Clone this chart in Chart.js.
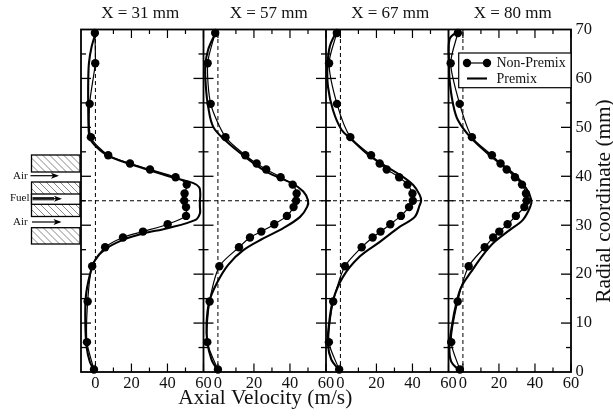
<!DOCTYPE html>
<html>
<head>
<meta charset="utf-8">
<script src="https://cdn.jsdelivr.net/npm/chart.js@4/dist/chart.umd.min.js"></script>
<style>html,body{margin:0;padding:0;background:#fff}canvas{display:block}</style>
</head>
<body>
<canvas id="c" width="613" height="419"></canvas>
<script>
const panelTitles = ["X = 31 mm", "X = 57 mm", "X = 67 mm", "X = 80 mm"];
const xTickValues = [0, 10, 20, 30, 40, 50, 60];
const xTickLabels = [0, 20, 40, 60];
const yTickLabels = [0, 10, 20, 30, 40, 50, 60, 70];

const radialNonPremix = [69.3,63.1,54.8,48,44.3,42.6,41.4,39.8,38.3,36.5,35,33.7,31.9,30.2,28.7,27.5,25.5,21.6,14.4,6.1,0.5];
const velNonPremix31 = [-0.3,-0.1,-3.2,-2.5,7.1,19.2,30.3,44.5,50.7,49.5,49.3,50.3,50.3,40.1,26.4,15.3,5.4,-1.8,-4.3,-4.7,-0.8];
const velNonPremix57 = [-1.5,-5.7,-4,4.2,15.2,21.5,26.8,34.8,41.5,43.7,43.4,42,38.3,31.3,24.1,17.8,11.7,0.8,-4.6,-5.9,0];
const velNonPremix67 = [-2,-6.3,-1.9,5.5,17,21.8,25.7,32.6,37.2,40,40.2,38.1,33.6,27.7,22.3,17.9,11.8,2.5,-4,-6.4,-0.7];
const velNonPremix80 = [-2.8,-6.8,-1.8,5,16.1,20.9,24.3,28.9,32.8,35,35.4,34.1,29.4,24.8,20.2,16.8,12.1,3.2,-2.9,-6.5,-1.7];

const radialPremix31 = [69.5,66.5,63.1,59,54.8,50.1,47.8,46,44.2,42.5,41.2,39.6,38.6,37.7,36.2,35,33.8,32.4,31.1,29.4,28.3,27,25.1,22.8,19.8,15.4,9.9,5.2,2.1,0.4];
const velPremix31 = [0.3,-2.1,-3.6,-4,-4,-3.8,-3.1,0.6,7.1,19.2,30.3,44.5,54.4,57.7,58.2,58,58,58,55.6,40.1,26.4,15.3,5.4,-0.3,-3.1,-5.3,-5.6,-4.9,-3.1,-0.8];
const radialPremix57 = [69.3,65.9,62.5,58.4,54.2,50.1,47.4,44,40.9,38.6,36.9,35.1,33.8,31.7,29.4,27.3,24.9,21.9,18.1,14.4,9.9,6.1,2.5,0.4];
const velPremix57 = [-1.3,-5.4,-7,-6.7,-5.4,-2.6,3.9,15,27,40.9,47.4,50,49.6,45.6,36.3,25.2,14.1,5.7,-0.7,-4.8,-6.3,-5.9,-3.5,-0.2];
const radialPremix67 = [69.6,66.5,62.4,58.3,53.5,49.5,47.8,44,40.3,38.2,36.2,35,34.1,31.7,29.7,26.6,23.6,19.5,14.7,9.9,5.8,2.5,0.4];
const velPremix67 = [-2.2,-5.9,-7.2,-6.9,-4.1,0.6,5.4,16.9,33,40.4,44,44.8,44,41.3,33,21.9,10.7,1.5,-4.1,-6.3,-7,-5,-0.7];
const radialPremix80 = [69.6,68,63,59.7,55,51.5,47.8,44,40.3,37.5,35.1,33.8,31.1,29,26.6,23.9,20.5,17.4,14,9.9,5.2,2.1,0.4];
const velPremix80 = [-3,-7.4,-7.7,-7.4,-5.6,-2.8,4.6,15.9,28.7,35.2,38,37.4,33.3,25.9,17.6,11.1,4.6,-0.9,-3.7,-5.9,-7.5,-6.5,-2.2];

const zeroLineRadial = [0, 70];
const zeroLineVelocity = [0, 0];
const centreRadial = 35;

const SERIF = '"Liberation Serif","Times New Roman",serif';
const nonPremix = [velNonPremix31, velNonPremix57, velNonPremix67, velNonPremix80];
const premixV = [velPremix31, velPremix57, velPremix67, velPremix80];
const premixR = [radialPremix31, radialPremix57, radialPremix67, radialPremix80];
const zip = (xs, ys) => xs.map((x, i) => ({x, y: ys[i]}));

const datasets = [];
const scales = {};
panelTitles.forEach((t, i) => {
  const id = 'x' + i;
  datasets.push({ label: 'zero ' + t, xAxisID: id, yAxisID: 'y', data: zip(zeroLineVelocity, zeroLineRadial),
    borderColor: '#000', borderWidth: 1, borderDash: [4, 3], pointRadius: 0, tension: 0 });
  datasets.push({ label: 'Non-Premix ' + t, xAxisID: id, yAxisID: 'y', data: zip(nonPremix[i], radialNonPremix),
    borderColor: '#000', backgroundColor: '#000', borderWidth: 1.2, pointRadius: 4.2, pointBackgroundColor: '#000', pointBorderWidth: 0, tension: 0.25 });
  datasets.push({ label: 'Premix ' + t, xAxisID: id, yAxisID: 'y', data: zip(premixV[i], premixR[i]),
    borderColor: '#000', borderWidth: 2.1, pointRadius: 0, tension: 0.35 });
  scales[id] = {
    type: 'linear', position: 'bottom', stack: 'panels', stackWeight: 1,
    min: -8, max: 60,
    afterBuildTicks: s => { s.ticks = xTickValues.map(value => ({value})); },
    afterFit: s => { s.height = 47; },
    grid: { display: false, drawTicks: false }, border: { display: false },
    ticks: {
      autoSkip: false, maxRotation: 0, padding: 2, color: '#111',
      font: { family: SERIF, size: 16.5 },
      callback: v => xTickLabels.includes(v) ? String(v) : ''
    }
  };
});
scales.y = {
  type: 'linear', position: 'right', min: 0, max: 70,
  afterBuildTicks: s => { s.ticks = []; for (let v = 0; v <= 70; v += 5) s.ticks.push({value: v}); },
  afterFit: s => { s.width = 42; },
  grid: { display: false, drawTicks: false }, border: { display: false },
  ticks: {
    autoSkip: false, padding: 4.5, color: '#111', font: { family: SERIF, size: 16.5 },
    callback: v => yTickLabels.includes(v) ? String(v) : ''
  }
};

function line(ctx, x1, y1, x2, y2) { ctx.beginPath(); ctx.moveTo(x1, y1); ctx.lineTo(x2, y2); ctx.stroke(); }

function hatchRect(ctx, x1, y1, x2, y2) {
  ctx.save();
  ctx.beginPath(); ctx.rect(x1, y1, x2 - x1, y2 - y1); ctx.clip();
  ctx.strokeStyle = '#555'; ctx.lineWidth = 0.7;
  for (let d = -(y2 - y1); d < x2 - x1; d += 7) line(ctx, x1 + d, y1, x1 + d + (y2 - y1), y2);
  ctx.restore();
  ctx.strokeStyle = '#000'; ctx.lineWidth = 1.3;
  ctx.strokeRect(x1, y1, x2 - x1, y2 - y1);
}
function arrow(ctx, x1, x2, y) {
  ctx.strokeStyle = '#000'; ctx.fillStyle = '#000'; ctx.lineWidth = 1.2;
  line(ctx, x1, y, x2 - 2, y);
  ctx.beginPath(); ctx.moveTo(x2, y); ctx.lineTo(x2 - 8, y - 3); ctx.lineTo(x2 - 6, y); ctx.lineTo(x2 - 8, y + 3); ctx.closePath(); ctx.fill();
}

const drawFrame = {
  id: 'drawFrame',
  afterDatasetsDraw(chart) {
    const ctx = chart.ctx, y = chart.scales.y, top = chart.chartArea.top, bottom = chart.chartArea.bottom;
    const panels = panelTitles.map((_, i) => chart.scales['x' + i]);
    ctx.save();
    ctx.strokeStyle = '#000'; ctx.lineCap = 'butt';

    // centre line across all panels
    ctx.lineWidth = 1; ctx.setLineDash([4, 3]);
    const yc = y.getPixelForValue(centreRadial);
    line(ctx, chart.chartArea.left, yc, chart.chartArea.right, yc);
    ctx.setLineDash([]);

    // frame
    ctx.lineWidth = 1.8;
    ctx.strokeRect(chart.chartArea.left, top, chart.chartArea.right - chart.chartArea.left, bottom - top);
    panels.forEach((s, i) => {
      if (i > 0) { ctx.lineWidth = 1.8; line(ctx, s.left, top, s.left, bottom); }
      ctx.lineWidth = 1.2;
      xTickValues.forEach(v => {
        const p = s.getPixelForValue(v), len = xTickLabels.includes(v) ? 8.5 : 4.5;
        line(ctx, p, bottom, p, bottom - len);
        line(ctx, p, top, p, top + len);
      });
    });
    // radial ticks
    ctx.lineWidth = 1.3;
    for (let v = 5; v < 70; v += 5) {
      const p = y.getPixelForValue(v), len = v % 10 === 0 ? 10 : 5;
      panels.forEach((s, i) => {
        line(ctx, s.left - (i > 0 ? len : 0), p, s.left + len, p);
      });
      line(ctx, chart.chartArea.right - len, p, chart.chartArea.right, p);
    }

    // titles
    ctx.fillStyle = '#111'; ctx.textBaseline = 'middle'; ctx.textAlign = 'center';
    ctx.font = '17px ' + SERIF;
    const titleNudge = [-2, 4, 3, 3];
    panels.forEach((s, i) => ctx.fillText(panelTitles[i], (s.left + s.right) / 2 + titleNudge[i], 14));
    ctx.font = '21.3px ' + SERIF;
    ctx.fillText('Axial Velocity (m/s)', 265.3, 398.5);
    ctx.save();
    ctx.translate(604.5, 201); ctx.rotate(-Math.PI / 2);
    ctx.fillText('Radial coordinate (mm)', 0, 0);
    ctx.restore();

    // legend
    ctx.fillStyle = '#fff'; ctx.fillRect(458.7, 53, 112.3, 34.7);
    ctx.strokeStyle = '#000'; ctx.lineWidth = 1.2; ctx.strokeRect(458.7, 53, 112.3, 34.7);
    ctx.lineWidth = 1.2; line(ctx, 467, 63, 487, 63);
    ctx.fillStyle = '#000';
    [467, 487].forEach(px => { ctx.beginPath(); ctx.arc(px, 63, 4.2, 0, Math.PI * 2); ctx.fill(); });
    ctx.lineWidth = 2.1; line(ctx, 467, 78.5, 487, 78.5);
    ctx.fillStyle = '#111'; ctx.textAlign = 'left'; ctx.font = '14px ' + SERIF;
    ctx.fillText('Non-Premix', 496.5, 63.5);
    ctx.fillText('Premix', 496.5, 79);

    // burner sketch
    hatchRect(ctx, 31.5, 155, 80, 172);
    hatchRect(ctx, 31.5, 182, 80, 216.5);
    ctx.fillStyle = '#fff'; ctx.fillRect(31.5, 194, 48.5, 10.3);
    ctx.strokeStyle = '#000'; ctx.lineWidth = 1.3; ctx.strokeRect(31.5, 194, 48.5, 10.3);
    hatchRect(ctx, 31.5, 227.7, 80, 244);
    arrow(ctx, 30.5, 59, 175.7);
    arrow(ctx, 32.5, 62, 198.7);
    ctx.lineWidth = 1; line(ctx, 32.5, 197.7, 54, 197.7); line(ctx, 32.5, 199.8, 54, 199.8);
    arrow(ctx, 32, 61.5, 222);
    ctx.fillStyle = '#111'; ctx.font = '11px ' + SERIF;
    ctx.fillText('Air', 13, 176.5);
    ctx.fillText('Fuel', 10, 198);
    ctx.fillText('Air', 13, 222);
    ctx.restore();
  }
};

new Chart(document.getElementById('c'), {
  type: 'scatter',
  data: { datasets: datasets.map(d => Object.assign({ showLine: true, clip: false, fill: false }, d)) },
  options: {
    responsive: false, animation: false, devicePixelRatio: 1,
    layout: { padding: { left: 81, top: 29.5, right: 0, bottom: 0 } },
    plugins: { legend: { display: false }, title: { display: false }, tooltip: { enabled: false } },
    scales
  },
  plugins: [{ id: 'bg', beforeDraw(c) { c.ctx.save(); c.ctx.fillStyle = '#fff'; c.ctx.fillRect(0, 0, c.width, c.height); c.ctx.restore(); } }, drawFrame]
});
</script>
</body>
</html>
